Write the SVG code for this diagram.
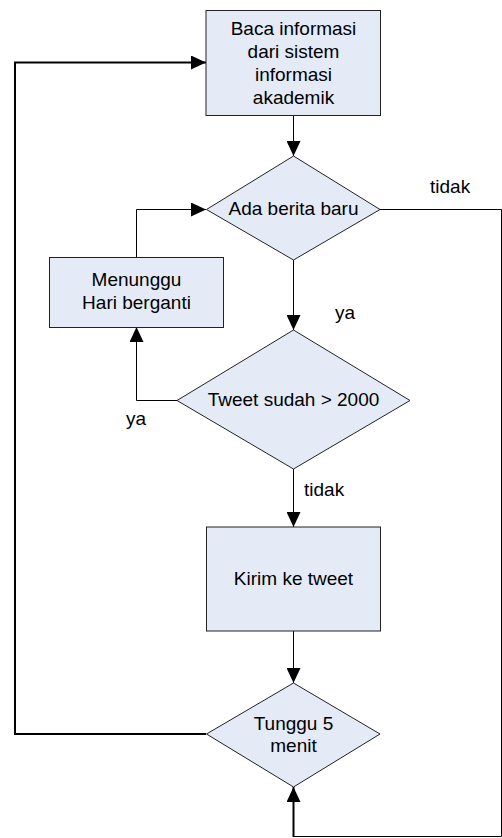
<svg xmlns="http://www.w3.org/2000/svg" width="502" height="838" viewBox="0 0 502 838">
<style>
.node{fill:#E4EBF7;stroke:#222;stroke-width:1}
.t{font-family:"Liberation Sans",Arial,sans-serif;font-size:19px;fill:#000;text-anchor:middle}
.lbl{font-family:"Liberation Sans",Arial,sans-serif;font-size:19px;fill:#000}
.c{fill:none;stroke:#000;stroke-width:1}
.ct{fill:none;stroke:#000;stroke-width:2}
</style>
<defs>
<marker id="ah" markerUnits="userSpaceOnUse" markerWidth="15" markerHeight="14" refX="15" refY="7" orient="auto">
<path d="M0,0 L15,7 L0,14 Z" fill="#000"/>
</marker>
</defs>
<rect width="502" height="838" fill="#fff"/>
<g id="connectors">
<path class="c" d="M293.5,115 V156" marker-end="url(#ah)"/>
<path class="c" d="M293.5,260 V330" marker-end="url(#ah)"/>
<path class="c" d="M293.5,469 V527" marker-end="url(#ah)"/>
<path class="c" d="M293.5,631 V683" marker-end="url(#ah)"/>
<path class="c" d="M136.5,257 V209.5 H206" marker-end="url(#ah)"/>
<path class="c" d="M177,400.5 H136.5 V327" marker-end="url(#ah)"/>
<path class="ct" d="M206,734 H15 V62.5 H206" marker-end="url(#ah)"/>
<path class="c" d="M380,209.5 H501.5 V836.5 H293.5"/>
<path class="ct" d="M293.5,837 V787" marker-end="url(#ah)"/>
<text class="lbl" x="430" y="193">tidak</text>
<text class="lbl" x="335" y="319">ya</text>
<text class="lbl" x="126" y="425">ya</text>
<text class="lbl" x="304" y="496">tidak</text>
</g>
<g id="baca">
<rect class="node" x="206" y="10.5" width="174.5" height="105"/>
<text class="t" x="293.5" y="35">Baca informasi</text>
<text class="t" x="293.5" y="58">dari sistem</text>
<text class="t" x="293.5" y="81">informasi</text>
<text class="t" x="293.5" y="104">akademik</text>
</g>
<g id="ada">
<polygon class="node" points="293.5,156 380,209.5 293.5,260 206.5,209.5"/>
<text class="t" x="293.5" y="215">Ada berita baru</text>
</g>
<g id="menunggu">
<rect class="node" x="49.5" y="257.5" width="174" height="70"/>
<text class="t" x="136.5" y="286">Menunggu</text>
<text class="t" x="136.5" y="309">Hari berganti</text>
</g>
<g id="tweet2000">
<polygon class="node" points="293.5,330 410,400.5 293.5,469 177,400.5"/>
<text class="t" x="293.5" y="406">Tweet sudah &gt; 2000</text>
</g>
<g id="kirim">
<rect class="node" x="206.5" y="527" width="174" height="104"/>
<text class="t" x="293.5" y="585">Kirim ke tweet</text>
</g>
<g id="tunggu">
<polygon class="node" points="293.5,683 380,734 293.5,787 206.5,734"/>
<text class="t" x="293.5" y="730">Tunggu 5</text>
<text class="t" x="293.5" y="752">menit</text>
</g>
</svg>
